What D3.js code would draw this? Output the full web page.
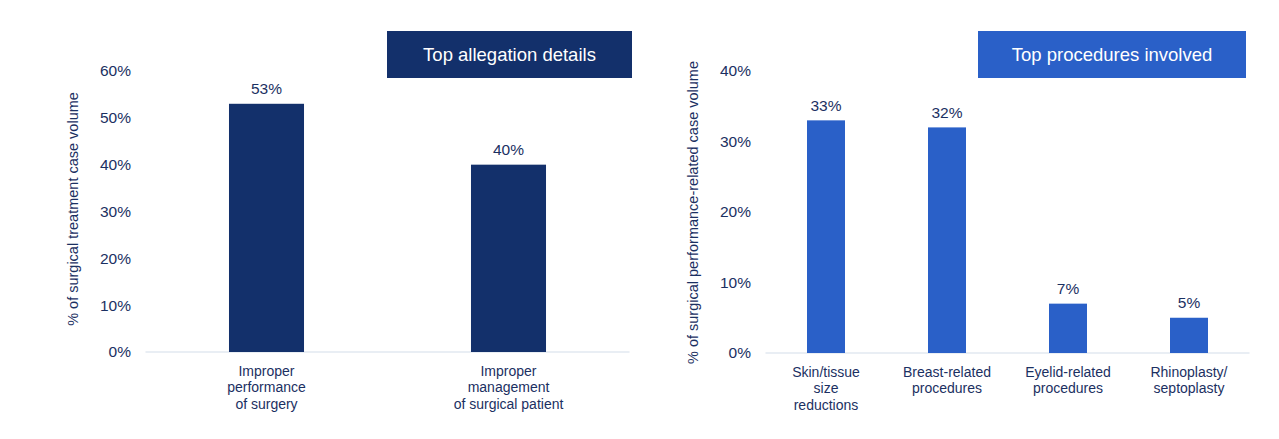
<!DOCTYPE html>
<html><head><meta charset="utf-8">
<script src="https://cdn.jsdelivr.net/npm/d3@7"></script>
<style>
html,body{margin:0;padding:0;background:#fff;}
svg{display:block;font-family:"Liberation Sans",Arial,sans-serif;}
</style></head>
<body>
<svg id="chart" width="1279" height="439"></svg>
<script>
// Left chart data
const leftTitle = "Top allegation details";
const leftCategories = [["Improper","performance","of surgery"],["Improper","management","of surgical patient"]];
const leftValues = [53, 40];
const leftTicks = [0,10,20,30,40,50,60];
const leftYTitle = "% of surgical treatment case volume";

// Right chart data
const rightTitle = "Top procedures involved";
const rightCategories = [["Skin/tissue","size","reductions"],["Breast-related","procedures"],["Eyelid-related","procedures"],["Rhinoplasty/","septoplasty"]];
const rightValues = [33, 32, 7, 5];
const rightTicks = [0,10,20,30,40];
const rightYTitle = "% of surgical performance-related case volume";

const textColor = "#1b3062";
const svg = d3.select("#chart");

function drawChart(cfg){
  const g = svg.append("g");
  const cats = cfg.categories.map((c,i)=>i);
  const x = d3.scaleBand().domain(cats).range(cfg.xRange).paddingInner(cfg.pad).paddingOuter(cfg.pad/2);
  const y = d3.scaleLinear().domain([0, d3.max(cfg.ticks)]).range(cfg.yRange);

  // y tick labels
  const yAxis = d3.axisLeft(y).tickValues(cfg.ticks).tickFormat(d=>d+"%").tickSize(0).tickPadding(0);
  const ya = g.append("g").attr("transform",`translate(${cfg.tickX},0)`).call(yAxis);
  ya.select(".domain").remove();
  ya.selectAll("text").attr("fill",textColor).style("font-size","15.5px").style("font-family","Liberation Sans, Arial, sans-serif");

  // baseline
  g.append("line").attr("x1",cfg.xRange[0]).attr("x2",cfg.xRange[1])
    .attr("y1",y(0)).attr("y2",y(0)).attr("stroke","#e2e8f0").attr("stroke-width",1.5);

  // bars
  g.selectAll("rect.bar").data(cfg.values).join("rect").attr("class","bar")
    .attr("x",(d,i)=>x(i)).attr("width",x.bandwidth())
    .attr("y",d=>y(d)).attr("height",d=>y(0)-y(d)).attr("fill",cfg.color);

  // value labels
  g.selectAll("text.val").data(cfg.values).join("text").attr("class","val")
    .attr("x",(d,i)=>x(i)+x.bandwidth()/2).attr("y",d=>y(d)-9.5)
    .attr("text-anchor","middle").attr("fill",textColor).style("font-size","15.5px")
    .text(d=>d+"%");

  // category labels
  cfg.categories.forEach((lines,i)=>{
    const t = g.append("text").attr("text-anchor","middle").attr("fill",textColor).style("font-size","14px");
    lines.forEach((ln,j)=>{
      t.append("tspan").attr("x",x(i)+x.bandwidth()/2).attr("y",y(0)+23.5+j*16.6).text(ln);
    });
  });

  // y title
  g.append("text").attr("transform",`translate(${cfg.yTitleX},${cfg.yTitleY}) rotate(-90)`)
    .attr("text-anchor","middle").attr("fill",textColor).style("font-size","14.5px").text(cfg.yTitle);

  // title box
  g.append("rect").attr("x",cfg.box[0]).attr("y",cfg.box[1]).attr("width",cfg.box[2]).attr("height",cfg.box[3]).attr("fill",cfg.boxColor);
  g.append("text").attr("x",cfg.box[0]+cfg.box[2]/2).attr("y",cfg.box[1]+cfg.box[3]/2+6.5)
    .attr("text-anchor","middle").attr("fill","#fff").style("font-size","18.5px").text(cfg.title);
}

drawChart({
  categories:leftCategories, values:leftValues, ticks:leftTicks, yTitle:leftYTitle, title:leftTitle,
  xRange:[145.5,629.5], yRange:[352,71], pad:0.69, tickX:131,
  color:"#13306b", yTitleX:78, yTitleY:209, box:[387,31,245,47], boxColor:"#13306b"
});
drawChart({
  categories:rightCategories, values:rightValues, ticks:rightTicks, yTitle:rightYTitle, title:rightTitle,
  xRange:[765.5,1249.5], yRange:[353,71], pad:0.686, tickX:751,
  color:"#2a60c8", yTitleX:698, yTitleY:212.5, box:[978,31,268,47], boxColor:"#2a60c8"
});
</script>
</body></html>
